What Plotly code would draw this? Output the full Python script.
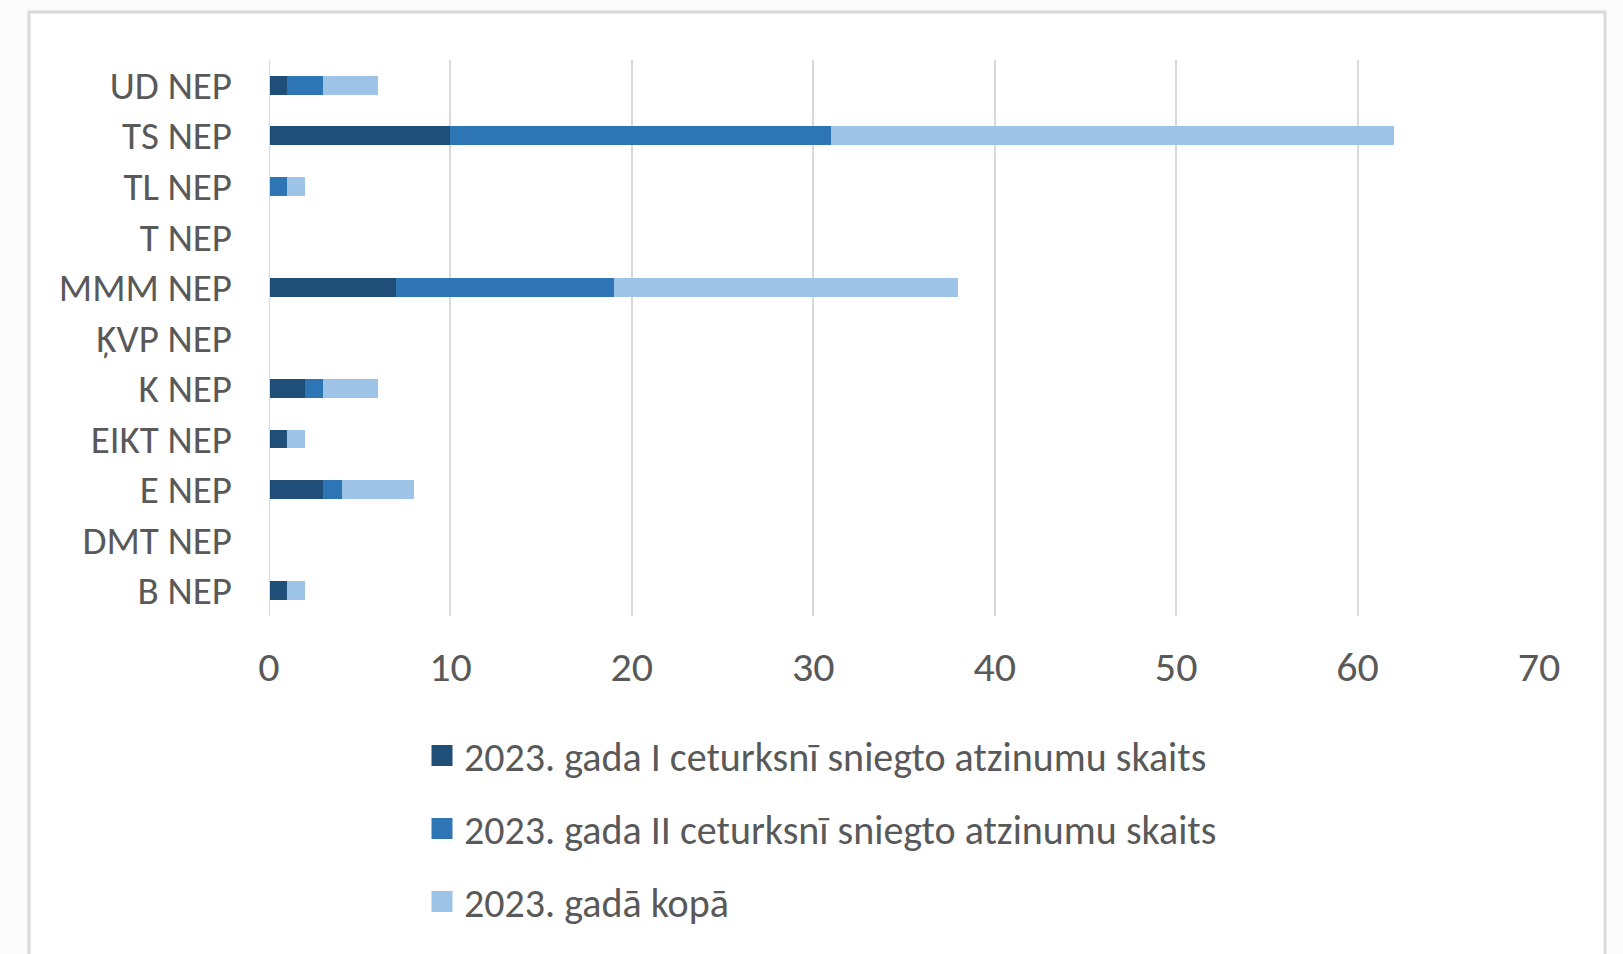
import plotly.graph_objects as go

categories = ["B NEP", "DMT NEP", "E NEP", "EIKT NEP", "K NEP", "ĶVP NEP",
              "MMM NEP", "T NEP", "TL NEP", "TS NEP", "UD NEP"]
q1 = [1, 0, 3, 1, 2, 0, 7, 0, 0, 10, 1]
q2 = [0, 0, 1, 0, 1, 0, 12, 0, 1, 21, 2]
total = [1, 0, 4, 1, 3, 0, 19, 0, 1, 31, 3]

series_names = ["2023. gada I ceturksnī sniegto atzinumu skaits",
                "2023. gada II ceturksnī sniegto atzinumu skaits",
                "2023. gadā kopā"]
colors = ["#1F4E79", "#2E75B6", "#9DC3E6"]
x_ticks = [0, 10, 20, 30, 40, 50, 60, 70]

FONT = "Carlito, Lato, 'Open Sans', sans-serif"

fig = go.Figure()
for i, (name, vals) in enumerate(zip(series_names, [q1, q2, total])):
    fig.add_trace(go.Bar(
        y=categories, x=vals, name=name, orientation="h",
        marker=dict(color=colors[i], line=dict(width=0)),
        legendgroup=f"g{i}",
    ))

# plot area geometry (px) used to place the frame
L, R, T, B = 269, 1539, 60, 616
W, H = R - L, B - T

def px_x(p):
    return (p - L) / W

def px_y(p):
    return (B - p) / H

fig.update_layout(
    width=1623, height=954,
    barmode="stack", bargap=0.63,
    margin=dict(l=L, r=1623 - R, t=T, b=954 - B, pad=0),
    paper_bgcolor="#FBFBFB", plot_bgcolor="white",
    font=dict(family=FONT, color="#595959", size=40),
    xaxis=dict(range=[0, 70], tickvals=x_ticks, showgrid=True,
               gridcolor="#D9D9D9", gridwidth=2, zeroline=False,
               showline=False, ticks="", ticklabelstandoff=22,
               tickfont=dict(size=42, color="#595959")),
    yaxis=dict(categoryorder="array", categoryarray=categories,
               showgrid=False, zeroline=False, showline=False,
               ticks="", ticklabelstandoff=36,
               tickfont=dict(size=39, color="#595959")),
    legend=dict(orientation="v", x=px_x(424), y=px_y(723),
                xanchor="left", yanchor="top", tracegroupgap=18,
                font=dict(size=40, color="#595959"),
                bgcolor="rgba(0,0,0,0)", traceorder="grouped"),
    showlegend=True,
    shapes=[
        dict(type="rect", xref="paper", yref="paper",
             x0=px_x(29), x1=px_x(1605), y0=px_y(975), y1=px_y(12),
             line=dict(color="#D9D9D9", width=3), fillcolor="white",
             layer="below"),
        dict(type="line", xref="x", yref="paper", x0=0, x1=0, y0=0, y1=1,
             line=dict(color="#D9D9D9", width=2), layer="above"),
    ],
)

post = (
    "document.body.style.margin='0';"
    "document.body.style.overflow='hidden';"
    "document.querySelectorAll('.legend .legendpoints path').forEach(function(p){"
    "p.setAttribute('d','M10.5,10.5H-10.5V-10.5H10.5Z');"
    "p.setAttribute('transform','translate(18,0)');});"
)

fig.write_html("out.html", config={"displayModeBar": False}, post_script=post)
